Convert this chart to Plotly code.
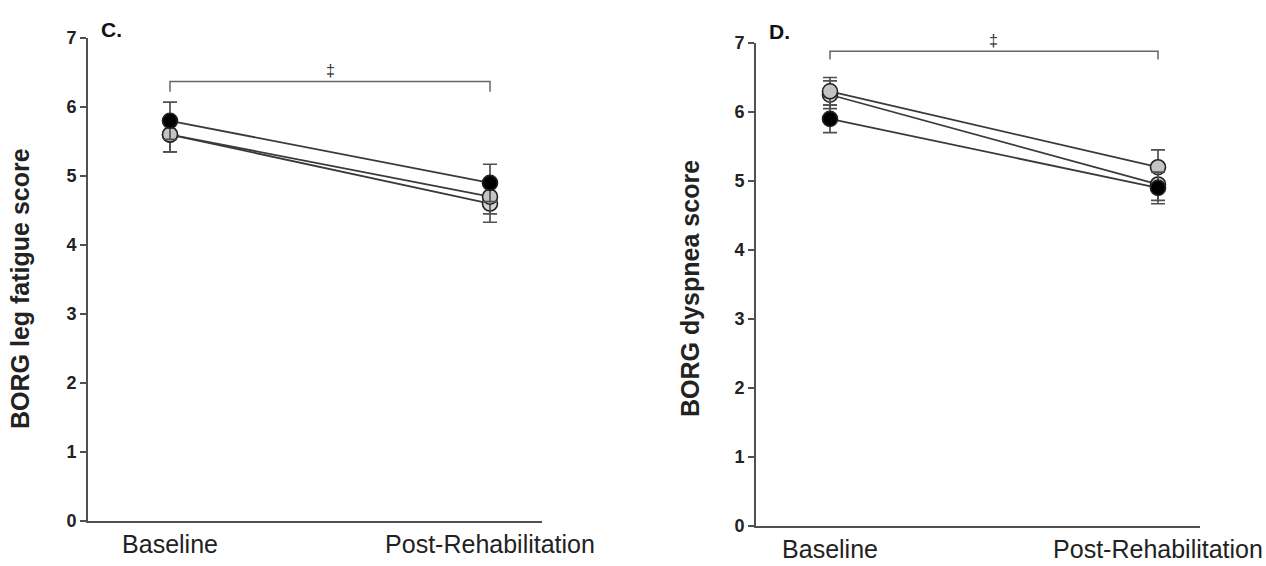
import plotly.graph_objects as go

W, H = 1266, 566

# x categories
timepoints = ["Baseline", "Post-Rehabilitation"]
xpos = [0, 1]

# Panel C: BORG leg fatigue score (mean, SE)
c_black = [5.8, 4.9]
c_black_err = [0.27, 0.27]
c_gray1 = [5.6, 4.7]
c_gray1_err = [0.25, 0.25]
c_gray2 = [5.6, 4.6]
c_gray2_err = [0.25, 0.27]

# Panel D: BORG dyspnea score (mean, SE)
d_black = [5.9, 4.9]
d_black_err = [0.2, 0.23]
d_gray1 = [6.3, 5.2]
d_gray1_err = [0.2, 0.25]
d_gray2 = [6.25, 4.95]
d_gray2_err = [0.2, 0.23]

y_ticks = [0, 1, 2, 3, 4, 5, 6, 7]

FONT = "Liberation Sans, Arial, sans-serif"
AX = "#505050"
LINE = "#3a3a3a"

fig = go.Figure()


def add_series(y, err, fill, xa, ya):
    fig.add_trace(go.Scatter(
        x=xpos, y=y, xaxis=xa, yaxis=ya, mode="lines+markers",
        line=dict(color=LINE, width=1.8),
        marker=dict(size=15, color=fill, line=dict(color="#222222", width=1.6)),
        error_y=dict(type="data", array=err, visible=True, color=AX,
                     thickness=1.7, width=7),
        showlegend=False, cliponaxis=False,
    ))


for y, e, col in [(c_gray2, c_gray2_err, "#d4d4d4"),
                  (c_gray1, c_gray1_err, "#c4c4c4"),
                  (c_black, c_black_err, "#000000")]:
    add_series(y, e, col, "x", "y")

for y, e, col in [(d_gray2, d_gray2_err, "#d4d4d4"),
                  (d_gray1, d_gray1_err, "#c4c4c4"),
                  (d_black, d_black_err, "#000000")]:
    add_series(y, e, col, "x2", "y2")


def px_x(p):
    return p / W


def px_y(p):
    return 1 - p / H


common_y = dict(
    range=[0, 7], tickvals=y_ticks, showgrid=False, zeroline=False,
    showline=True, linecolor=AX, linewidth=2, ticks="outside",
    tickcolor=AX, ticklen=6, tickwidth=1.5, automargin=False,
    tickfont=dict(family=FONT, size=18, color="#222222", weight="bold"),
)
common_x = dict(
    tickvals=xpos, ticktext=timepoints, showgrid=False, zeroline=False,
    showline=True, linecolor=AX, linewidth=2, ticks="", automargin=False,
    tickfont=dict(family=FONT, size=25, color="#222222"),
)

# plot areas in px: C x 88..542, y 38..521; D x 756..1200, y 43..526
fig.update_layout(
    width=W, height=H, margin=dict(l=0, r=0, t=0, b=0),
    paper_bgcolor="white", plot_bgcolor="white",
    xaxis=dict(domain=[px_x(88), px_x(542)], range=[-82 / 320, 1 + 52 / 320],
               anchor="y", **common_x),
    yaxis=dict(domain=[px_y(521), px_y(38)], anchor="x", **common_y),
    xaxis2=dict(domain=[px_x(756), px_x(1200)], range=[-74 / 328, 1 + 42 / 328],
                anchor="y2", **common_x),
    yaxis2=dict(domain=[px_y(526), px_y(43)], anchor="x2", **common_y),
)

# significance brackets
for xa, ya, yb, yt in [("x", "y", 6.37, 6.22), ("x2", "y2", 6.88, 6.76)]:
    fig.add_shape(type="path", xref=xa, yref=ya,
                  path=f"M 0,{yt} L 0,{yb} L 1,{yb} L 1,{yt}",
                  line=dict(color="#666666", width=1.5))

annotations = [
    dict(x=0.5, y=6.37, xref="x", yref="y", text="‡", showarrow=False,
         yanchor="bottom", font=dict(family=FONT, size=16, color="#333333")),
    dict(x=0.5, y=6.88, xref="x2", yref="y2", text="‡", showarrow=False,
         yanchor="bottom", font=dict(family=FONT, size=16, color="#333333")),
    dict(x=px_x(111), y=px_y(29), xref="paper", yref="paper", text="<b>C.</b>",
         showarrow=False, xanchor="center", yanchor="middle",
         font=dict(family=FONT, size=21, color="#111111")),
    dict(x=px_x(779), y=px_y(32), xref="paper", yref="paper", text="<b>D.</b>",
         showarrow=False, xanchor="center", yanchor="middle",
         font=dict(family=FONT, size=21, color="#111111")),
    dict(x=px_x(20), y=px_y(289), xref="paper", yref="paper",
         text="<b>BORG leg fatigue score</b>", textangle=-90, showarrow=False,
         xanchor="center", yanchor="middle",
         font=dict(family=FONT, size=25, color="#222222")),
    dict(x=px_x(690), y=px_y(289), xref="paper", yref="paper",
         text="<b>BORG dyspnea score</b>", textangle=-90, showarrow=False,
         xanchor="center", yanchor="middle",
         font=dict(family=FONT, size=25, color="#222222")),
]
fig.update_layout(annotations=annotations)

fig.write_html("out.html")
